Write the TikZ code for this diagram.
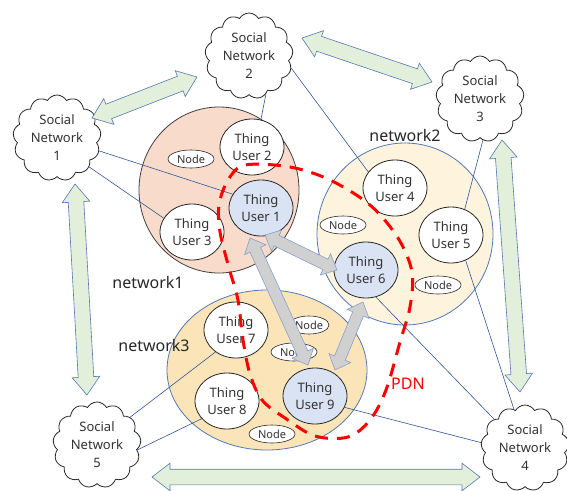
\documentclass[tikz,border=0pt]{standalone}
\usepackage{fontspec}
\setmainfont{Noto Sans}
\usepackage{tikz}
\usetikzlibrary{shapes.geometric, shapes.symbols, shapes.arrows,
                positioning, calc}
\definecolor{netpeach}{RGB}{248,219,203}
\definecolor{netcream}{RGB}{254,243,220}
\definecolor{netsand}{RGB}{251,229,184}
\definecolor{userblue}{RGB}{218,227,243}
\definecolor{linkblue}{RGB}{47,85,151}
\definecolor{arrowgreen}{RGB}{226,239,218}
\definecolor{arrowedge}{RGB}{84,120,180}
\definecolor{arrowgray}{RGB}{208,208,208}
\definecolor{pdnred}{RGB}{255,0,0}

\pgfdeclarelayer{nets}
\pgfdeclarelayer{links}
\pgfsetlayers{nets,links,main}

% double block arrow from node #2 (offset #3) to node #4 (offset #5)
\newcommand{\dblarrow}[5][bigarrow]{%
  \path ($(#2)+(#3)$) coordinate (dA) ($(#4)+(#5)$) coordinate (dB);
  \path let \p1=($(dB)-(dA)$), \n1={atan2(\y1,\x1)},
            \n2={veclen(\x1,\y1)} in
    node[#1, minimum height=\n2, rotate=\n1] at ($(dA)!0.5!(dB)$) {};}

\begin{document}
\begin{tikzpicture}[
  x=1pt, y=-1pt,
  snet/.style={cloud, cloud puffs=13, cloud puff arc=120, aspect=1,
               draw=black!85, fill=white, thick, inner sep=0, align=center,
               font=\fontsize{13}{18}\selectfont, text=black!80,
               minimum width=88, minimum height=86},
  netbig/.style={ellipse, thick, inner sep=0},
  thing/.style={ellipse, draw=black!85, fill=white, thick, inner sep=0,
                align=center, font=\fontsize{13}{17}\selectfont,
                text=black!80, minimum width=64, minimum height=56},
  thingb/.style={thing, fill=userblue},
  nd/.style={ellipse, draw=black!85, fill=white, semithick, inner sep=0,
             font=\fontsize{11}{13}\selectfont, text=black!80,
             minimum width=46, minimum height=18},
  link/.style={draw=linkblue, semithick},
  bigarrow/.style={double arrow, draw=arrowedge, fill=arrowgreen, semithick,
                   inner xsep=0, inner ysep=7.5pt, minimum width=27,
                   double arrow head extend=6, double arrow tip angle=75},
  grayarrow/.style={bigarrow, fill=arrowgray, draw=arrowedge!70,
                    inner ysep=5.5pt, minimum width=23,
                    double arrow tip angle=85},
  pdn/.style={draw=pdnred, line width=3pt, dash pattern=on 13pt off 9pt},
  netlabel/.style={font=\fontsize{16}{18}\selectfont, text=black!85},
]
\useasboundingbox (0,0) rectangle (567,490);

% the three networks
\begin{pgfonlayer}{nets}
\node[netbig, draw=black!75, fill=netpeach, minimum width=160,
      minimum height=166] (net1) at (219,190) {};
\node[netbig, draw=arrowedge, fill=netcream, minimum width=176,
      minimum height=182] (net2) at (405,234) {};
\node[netbig, draw=arrowedge, fill=netsand, minimum width=200,
      minimum height=160] (net3) at (267,370) {};
\end{pgfonlayer}

% social networks
\node[snet] (sn1) at (57,138) {Social\\Network\\1};
\node[snet] (sn2) at (249,56) {Social\\Network\\2};
\node[snet] (sn3) at (480,99) {Social\\Network\\3};
\node[snet] (sn4) at (525,448) {Social\\Network\\4};
\node[snet] (sn5) at (97,445) {Social\\Network\\5};

% thing users
\node[thingb] (tu1) at (261,208) {Thing\\User 1};
\node[thing]  (tu2) at (252,147) {Thing\\User 2};
\node[thing]  (tu3) at (192,232) {Thing\\User 3};
\node[thing]  (tu4) at (395,188) {Thing\\User 4};
\node[thing]  (tu5) at (451,235) {Thing\\User 5};
\node[thingb] (tu6) at (366,270) {Thing\\User 6};
\node[thing]  (tu7) at (236,330) {Thing\\User 7};
\node[thing]  (tu8) at (227,401) {Thing\\User 8};
\node[thingb] (tu9) at (315,396) {Thing\\User 9};

% plain nodes
\node[nd] (nd1) at (191,159) {Node};
\node[nd] (nd2) at (343,225) {Node};
\node[nd] (nd3) at (438,285) {Node};
\node[nd, minimum width=40] (nd4) at (309,325) {Node};
\node[nd] (nd5) at (294,352) {Node};
\node[nd] (nd6) at (272,434) {Node};

% links between social networks and users
\begin{pgfonlayer}{links}
\draw[link] (sn1.-17) -- (tu1.154);
\draw[link] (sn1.-42) -- (tu3.154);
\draw[link] (sn2.-66) -- (tu2.72);
\draw[link] (sn2.-16) -- (tu4.149);
\draw[link] (sn3.-86) -- (tu5.62);
\draw[link] (sn4.106) -- (tu5.-60);
\draw[link] (sn4.137) -- (tu6.-70);
\draw[link] (sn4.173) -- (tu9.-21);
\draw[link] (sn5.40) -- (tu7.-133);
\draw[link] (sn5.-7) -- (tu8.-145);
\end{pgfonlayer}

% arrows between social networks
\dblarrow{sn1}{35,-20}{sn2}{-52,21}
\dblarrow{sn2}{53,-18}{sn3}{-48,-17}
\dblarrow{sn3}{22,41}{sn4}{-5,-56}
\dblarrow{sn1}{18,46}{sn5}{-10,-50}
\dblarrow{sn5}{55,32}{sn4}{-45,29}

% arrows inside the PDN
\dblarrow[grayarrow]{tu1}{4,27}{tu6}{-29,0}
\dblarrow[grayarrow]{tu1}{-11,30}{tu9}{-7,-31}
\dblarrow[grayarrow]{tu6}{-3,32}{tu9}{20,-26}

% PDN boundary
\draw[pdn] plot[smooth cycle, tension=0.55] coordinates {
  (245,165) (290,167) (330,180) (370,205) (398,238) (412,272) (410,307)
  (400,342) (386,390) (370,420) (348,437) (315,436) (285,418) (262,400)
  (250,374) (243,340) (238,300) (229,268) (220,232) (219,205) (228,180)};

% labels
\node[netlabel] (lab1) at (148,282) {network1};
\node[netlabel] (lab2) at (405,135) {network2};
\node[netlabel] (lab3) at (154,345) {network3};
\node[netlabel, text=pdnred] (labpdn) at (408,384) {PDN};
\end{tikzpicture}
\end{document}
